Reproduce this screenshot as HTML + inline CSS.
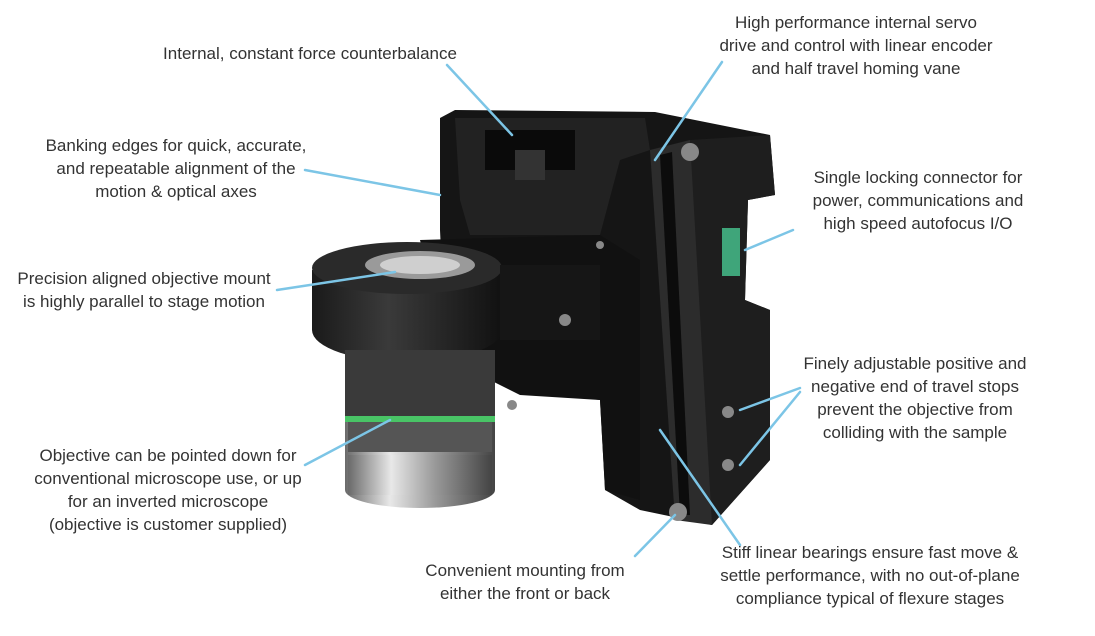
<!DOCTYPE html>
<html><head><meta charset="utf-8"><style>
html,body{margin:0;padding:0;background:#fff;}
body{width:1095px;height:636px;position:relative;overflow:hidden;font-family:"Liberation Sans",sans-serif;}
.t{position:absolute;color:#333;font-size:17px;line-height:23px;text-align:center;white-space:nowrap;transform:translateX(-50%);}
svg{position:absolute;left:0;top:0;}
</style></head><body>
<svg width="1095" height="636" viewBox="0 0 1095 636">
<defs>
<linearGradient id="silver" x1="0" x2="1">
<stop offset="0" stop-color="#6a6a6a"/><stop offset="0.3" stop-color="#e8e8e8"/><stop offset="0.6" stop-color="#9a9a9a"/><stop offset="1" stop-color="#444"/>
</linearGradient>
<linearGradient id="ring" x1="0" x2="1">
<stop offset="0" stop-color="#1a1a1a"/><stop offset="0.4" stop-color="#3a3a3a"/><stop offset="1" stop-color="#111"/>
</linearGradient>
</defs>
<polygon points="440,118 455,110 655,112 770,135 775,195 748,200 745,300 770,310 770,460 712,525 640,510 605,490 600,400 520,390 500,360 445,340 440,230" fill="#151515"/>
<polygon points="455,118 645,118 650,150 620,160 600,235 470,235 460,200" fill="#222"/>
<rect x="485" y="130" width="90" height="40" fill="#0a0a0a"/>
<rect x="515" y="150" width="30" height="30" fill="#333"/>
<polygon points="690,140 770,135 775,195 748,200 745,300 770,310 770,460 712,525 700,500" fill="#1e1e1e"/>
<polygon points="650,150 690,140 712,525 675,520" fill="#2c2c2c"/>
<polygon points="660,155 672,152 690,515 680,515" fill="#0c0c0c"/>
<polygon points="420,240 600,235 640,260 640,500 605,490 600,400 520,395 450,360" fill="#111"/>
<rect x="722" y="228" width="18" height="48" fill="#3fa57a"/>
<path d="M312,270 L312,330 A95,32 0 0 0 502,330 L502,270 Z" fill="url(#ring)"/>
<ellipse cx="407" cy="268" rx="95" ry="26" fill="#2a2a2a"/>
<ellipse cx="420" cy="265" rx="55" ry="14" fill="#9a9a9a"/>
<ellipse cx="420" cy="265" rx="40" ry="9" fill="#cfcfcf"/>
<rect x="500" y="265" width="100" height="75" fill="#161616"/>
<path d="M345,350 L345,490 A75,18 0 0 0 495,490 L495,350 Z" fill="url(#silver)"/>
<rect x="345" y="350" width="150" height="70" fill="#3a3a3a"/>
<rect x="345" y="416" width="150" height="6" fill="#49c466"/>
<rect x="348" y="422" width="144" height="30" fill="#555"/>
<rect x="348" y="455" width="144" height="40" fill="url(#silver)"/>
<g fill="#888"><circle cx="690" cy="152" r="9"/><circle cx="678" cy="512" r="9"/><circle cx="728" cy="412" r="6"/><circle cx="728" cy="465" r="6"/><circle cx="565" cy="320" r="6"/><circle cx="512" cy="405" r="5"/><circle cx="600" cy="245" r="4"/></g>
<g stroke="#7cc5e6" stroke-width="2.5" stroke-linecap="round">
<line x1="447" y1="65" x2="512" y2="135"/>
<line x1="722" y1="62" x2="655" y2="160"/>
<line x1="305" y1="170" x2="440" y2="195"/>
<line x1="793" y1="230" x2="745" y2="250"/>
<line x1="277" y1="290" x2="395" y2="272"/>
<line x1="800" y1="388" x2="740" y2="410"/>
<line x1="800" y1="392" x2="740" y2="465"/>
<line x1="305" y1="465" x2="390" y2="420"/>
<line x1="635" y1="556" x2="675" y2="515"/>
<line x1="740" y1="545" x2="660" y2="430"/>
</g>
</svg>
<div class="t" style="left:310px;top:42px">Internal, constant force counterbalance</div>
<div class="t" style="left:856px;top:11px">High performance internal servo<br>drive and control with linear encoder<br>and half travel homing vane</div>
<div class="t" style="left:176px;top:134px">Banking edges for quick, accurate,<br>and repeatable alignment of the<br>motion &amp; optical axes</div>
<div class="t" style="left:918px;top:166px">Single locking connector for<br>power, communications and<br>high speed autofocus I/O</div>
<div class="t" style="left:144px;top:267px">Precision aligned objective mount<br>is highly parallel to stage motion</div>
<div class="t" style="left:915px;top:352px">Finely adjustable positive and<br>negative end of travel stops<br>prevent the objective from<br>colliding with the sample</div>
<div class="t" style="left:168px;top:444px">Objective can be pointed down for<br>conventional microscope use, or up<br>for an inverted microscope<br>(objective is customer supplied)</div>
<div class="t" style="left:525px;top:559px">Convenient mounting from<br>either the front or back</div>
<div class="t" style="left:870px;top:541px">Stiff linear bearings ensure fast move &amp;<br>settle performance, with no out-of-plane<br>compliance typical of flexure stages</div>
</body></html>
